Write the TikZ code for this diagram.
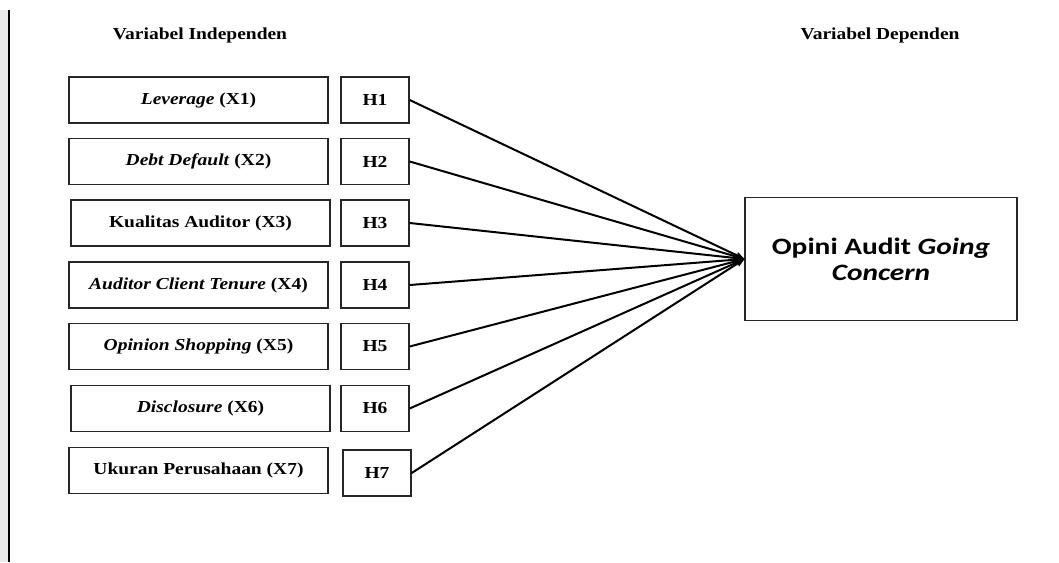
\documentclass[tikz,border=0pt]{standalone}
\usepackage{fontspec}
\setmainfont[FakeStretch=1.16]{Liberation Serif}
\newfontfamily\calib[FakeStretch=1.25]{Carlito}
\usetikzlibrary{arrows.meta}
\begin{document}
\begin{tikzpicture}[x=1pt,y=-1pt,
  varbox/.style={draw=black!85,line width=1.4pt,minimum width=259pt,minimum height=46pt,inner sep=0pt,
    font=\fontsize{16.8}{19}\selectfont\bfseries},
  hbox/.style={draw=black!85,line width=1.4pt,minimum width=68pt,minimum height=46pt,inner sep=0pt,
    font=\fontsize{16.8}{19}\selectfont\bfseries},
  head/.style={font=\fontsize{16.8}{19}\selectfont\bfseries,inner sep=0pt},
  link/.style={line width=2pt,-{Stealth[length=9pt,width=7pt]}}]
\useasboundingbox (0,0) rectangle (1059,562);
\fill[white] (0,0) rectangle (1059,562);
\fill[black!8] (0,10) rectangle (8,562);
\draw[line width=2pt] (9,10) -- (9,562);
\node[head] (hi) at (200,35) {Variabel Independen};
\node[head] (hd) at (880,35) {Variabel Dependen};
\node[varbox] (x1) at (198.5,100) {\textit{Leverage} (X1)};
\node[varbox] (x2) at (198.5,161.5) {\textit{Debt Default} (X2)};
\node[varbox] (x3) at (200.5,223) {Kualitas Auditor (X3)};
\node[varbox] (x4) at (198.5,285) {\textit{Auditor Client Tenure} (X4)};
\node[varbox] (x5) at (198.5,346.5) {\textit{Opinion Shopping} (X5)};
\node[varbox] (x6) at (200.5,408.5) {\textit{Disclosure} (X6)};
\node[varbox] (x7) at (198.5,470.5) {Ukuran Perusahaan (X7)};
\node[hbox] (h1) at (375,100) {H1};
\node[hbox] (h2) at (375,161.5) {H2};
\node[hbox] (h3) at (375,223) {H3};
\node[hbox] (h4) at (375,285) {H4};
\node[hbox] (h5) at (375,346.5) {H5};
\node[hbox] (h6) at (375,408.5) {H6};
\node[hbox] (h7) at (377,473) {H7};
\node[draw=black!85,line width=1.4pt,minimum width=272pt,minimum height=123pt,inner sep=0pt,
  align=center,font=\calib\fontsize{23.5}{26}\selectfont\bfseries] (y) at (881,259)
  {Opini Audit \textit{Going}\\\textit{Concern}};
\coordinate (tip) at (744.5,259);
\foreach \h in {h1,h2,h3,h4,h5,h6,h7} \draw[link] (\h.east) -- (tip);
\end{tikzpicture}
\end{document}
